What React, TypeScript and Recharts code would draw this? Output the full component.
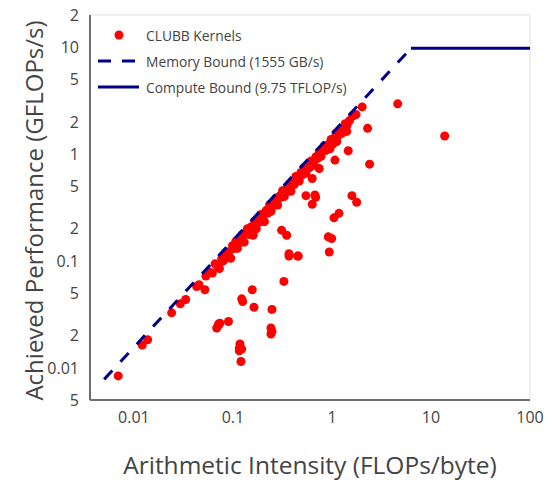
import React from "react";
import {
  ScatterChart,
  Scatter,
  XAxis,
  YAxis,
  CartesianGrid,
  Legend,
  Label,
} from "recharts";

// CLUBB kernel measurements: arithmetic intensity (FLOPs/byte) and achieved performance
const kernelAI: number[] = [
  0.00694, 0.01213, 0.01375, 0.02404, 0.0294, 0.0333, 0.043, 0.0454, 0.0521, 0.0533,
  0.0685, 0.0717, 0.0739, 0.0901, 0.0711,
  0.1225, 0.1253, 0.1567, 0.163, 0.1177, 0.1159, 0.1225, 0.1159, 0.1205,
  0.327, 0.2477, 0.242, 0.2477, 0.242,
  0.31, 0.349, 0.368, 0.368, 0.457, 0.918, 0.993, 0.939,
  4.61, 13.75, 2.29, 1.46, 2.4, 1.072, 0.744, 0.632, 0.546, 0.673, 0.684, 0.632,
  1.59, 1.776, 1.048, 1.177, 0.45, 0.16,
  0.058, 0.062, 0.066, 0.07, 0.073, 0.077, 0.08, 0.084, 0.088, 0.091,
  0.095, 0.099, 0.103, 0.107, 0.111, 0.115, 0.12, 0.125, 0.13, 0.135,
  0.14, 0.146, 0.152, 0.158, 0.165, 0.172, 0.178, 0.185, 0.192, 0.2,
  0.208, 0.216, 0.225, 0.234, 0.243, 0.252, 0.262, 0.272, 0.283, 0.294,
  0.305, 0.317, 0.33, 0.343, 0.356, 0.37, 0.385, 0.4, 0.416, 0.432,
  0.45, 0.468, 0.486, 0.505, 0.525, 0.546, 0.568, 0.59, 0.614, 0.638,
  0.663, 0.69, 0.717, 0.745, 0.775, 0.805, 0.837, 0.87, 0.905, 0.94,
  0.98, 1.02, 1.06, 1.1, 1.15, 1.2, 1.25, 1.3, 1.36, 1.42,
  1.5, 1.62, 1.75, 2.02, 0.955, 0.787, 1.41, 1.12,
];
const kernelPerf: number[] = [
  0.0084, 0.01633, 0.01832, 0.0327, 0.0397, 0.0436, 0.0577, 0.0599, 0.0537, 0.0722,
  0.0236, 0.0257, 0.0261, 0.0271, 0.0248,
  0.0442, 0.0417, 0.0537, 0.0369, 0.0167, 0.0153, 0.015, 0.01445, 0.01145,
  0.0643, 0.0351, 0.0236, 0.0219, 0.0207,
  0.194, 0.174, 0.117, 0.111, 0.111, 0.168, 0.162, 0.1213,
  2.95, 1.477, 1.74, 1.074, 0.805, 0.878, 0.732, 0.59, 0.408, 0.414, 0.394, 0.339,
  0.408, 0.354, 0.253, 0.279, 0.111, 0.174,
  0.079, 0.077, 0.094, 0.09, 0.085, 0.105, 0.1, 0.12, 0.107, 0.122,
  0.106, 0.139, 0.131, 0.153, 0.131, 0.154, 0.149, 0.177, 0.15, 0.178,
  0.2, 0.177, 0.208, 0.202, 0.236, 0.2, 0.238, 0.23, 0.272, 0.261,
  0.233, 0.296, 0.28, 0.335, 0.291, 0.337, 0.334, 0.385, 0.334, 0.402,
  0.393, 0.454, 0.4, 0.464, 0.449, 0.523, 0.449, 0.535, 0.518, 0.618,
  0.581, 0.56, 0.673, 0.644, 0.751, 0.662, 0.76, 0.743, 0.859, 0.833,
  0.784, 0.944, 0.914, 1.054, 0.952, 1.077, 1.198, 1.082, 1.224, 1.199,
  1.372, 1.237, 1.417, 1.574, 1.484, 1.661, 1.555, 1.76, 1.92, 1.86,
  2.05, 2.27, 2.34, 2.76, 1.12, 1.057, 1.63, 1.31,
];

// Roofline bounds
const memoryAI: number[] = [0.005, 6.27];
const memoryPerf: number[] = [0.0078, 9.75];
const computeAI: number[] = [6.27, 100];
const computePerf: number[] = [9.75, 9.75];

const xTicks: number[] = [0.01, 0.1, 1, 10, 100];
const xTickLabels: string[] = ["0.01", "0.1", "1", "10", "100"];
const yTicks: number[] = [0.005, 0.01, 0.02, 0.05, 0.1, 0.2, 0.5, 1, 2, 5, 10, 20];
const yTickLabels: string[] = ["5", "0.01", "2", "5", "0.1", "2", "5", "1", "2", "5", "10", "2"];

const legendLabels: string[] = [
  "CLUBB Kernels",
  "Memory Bound (1555 GB/s)",
  "Compute Bound (9.75 TFLOP/s)",
];

const xDomain: [number, number] = [0.0036, 100];
const yDomain: [number, number] = [0.005, 20];

const kernels = kernelAI.map((x, i) => ({ x, y: kernelPerf[i] }));
const memory = memoryAI.map((x, i) => ({ x, y: memoryPerf[i] }));
const compute = computeAI.map((x, i) => ({ x, y: computePerf[i] }));

const FONT = '"Open Sans", verdana, arial, sans-serif';
const TEXT = "#444";
const NAVY = "#00008B";
const RED = "#FF0000";
const FRAME = "#6e6e6e";

const Dot = (props: any) => {
  const { cx, cy } = props;
  if (cx == null || cy == null) return <g />;
  return <circle cx={cx} cy={cy} r={4.5} fill={RED} />;
};

const NoShape = () => <g />;

const LegendContent = () => (
  <div
    style={{
      background: "#fff",
      width: 262,
      height: 92,
      fontFamily: FONT,
      fontSize: 13.8,
      color: TEXT,
      boxSizing: "border-box",
      paddingTop: 6,
    }}
  >
    {legendLabels.map((label, i) => (
      <div
        key={label}
        style={{ display: "flex", alignItems: "center", height: 26 }}
      >
        <svg width={55} height={26} style={{ display: "block" }}>
          {i === 0 && <circle cx={28} cy={13} r={4.5} fill={RED} />}
          {i === 1 && (
            <line
              x1={7}
              y1={13}
              x2={47}
              y2={13}
              stroke={NAVY}
              strokeWidth={3}
              strokeDasharray="13 11"
            />
          )}
          {i === 2 && (
            <line x1={7} y1={13} x2={48} y2={13} stroke={NAVY} strokeWidth={3} />
          )}
        </svg>
        <span style={{ whiteSpace: "nowrap" }}>{label}</span>
      </div>
    ))}
  </div>
);

export default function App() {
  return (
    <div style={{ position: "absolute", left: 0, top: 0, background: "#fff" }}>
      <ScatterChart
        width={554}
        height={480}
        margin={{ top: 15, right: 24, bottom: 0, left: 0 }}
        style={{ fontFamily: FONT }}
      >
        <CartesianGrid stroke="#ebebeb" strokeWidth={1.5} />
        <XAxis
          xAxisId="main"
          dataKey="x"
          type="number"
          scale="log"
          domain={xDomain}
          allowDataOverflow
          ticks={xTicks}
          tickFormatter={(v: number) => xTickLabels[xTicks.indexOf(v)] ?? String(v)}
          height={80}
          axisLine={{ stroke: FRAME, strokeWidth: 2 }}
          tickLine={false}
          tick={{ fill: TEXT, fontSize: 16, fontFamily: FONT }}
          tickMargin={6}
        >
          <Label
            content={(p: any) => {
              const vb = p.viewBox || {};
              return (
                <text
                  x={vb.x + vb.width / 2}
                  y={vb.y + vb.height - 6}
                  textAnchor="middle"
                  fill={TEXT}
                  fontSize={24.5}
                  fontFamily={FONT}
                >
                  Arithmetic Intensity (FLOPs/byte)
                </text>
              );
            }}
          />
        </XAxis>
        <XAxis
          xAxisId="top"
          orientation="top"
          dataKey="x"
          type="number"
          scale="log"
          domain={xDomain}
          allowDataOverflow
          ticks={xTicks}
          height={0}
          tick={false}
          tickLine={false}
          axisLine={{ stroke: FRAME, strokeWidth: 2 }}
        />
        <YAxis
          yAxisId="main"
          dataKey="y"
          type="number"
          scale="log"
          domain={yDomain}
          allowDataOverflow
          ticks={yTicks}
          tickFormatter={(v: number) => yTickLabels[yTicks.indexOf(v)] ?? String(v)}
          width={90}
          axisLine={{ stroke: FRAME, strokeWidth: 2 }}
          tickLine={false}
          tick={{ fill: TEXT, fontSize: 16, fontFamily: FONT }}
          tickMargin={5}
        >
          <Label
            content={(p: any) => {
              const vb = p.viewBox || {};
              const cx = 33;
              const cy = vb.y + vb.height / 2 + 3;
              return (
                <text
                  x={cx}
                  y={cy}
                  transform={`rotate(-90, ${cx}, ${cy})`}
                  textAnchor="middle"
                  dominantBaseline="central"
                  fill={TEXT}
                  fontSize={24}
                  fontFamily={FONT}
                >
                  Achieved Performance (GFLOPs/s)
                </text>
              );
            }}
          />
        </YAxis>
        <YAxis
          yAxisId="right"
          orientation="right"
          dataKey="y"
          type="number"
          scale="log"
          domain={yDomain}
          allowDataOverflow
          ticks={yTicks}
          width={0}
          tick={false}
          tickLine={false}
          axisLine={{ stroke: FRAME, strokeWidth: 2 }}
        />
        <Legend
          layout="horizontal"
          verticalAlign="middle"
          align="center"
          wrapperStyle={{ left: 91, top: 16, width: 262, height: 92 }}
          content={LegendContent}
        />
        <Scatter
          name={legendLabels[0]}
          data={kernels}
          xAxisId="main"
          yAxisId="main"
          fill={RED}
          shape={Dot}
          isAnimationActive={false}
        />
        <Scatter
          name={legendLabels[1]}
          data={memory}
          xAxisId="main"
          yAxisId="main"
          fill={NAVY}
          shape={NoShape}
          line={{ stroke: NAVY, strokeWidth: 3, strokeDasharray: "12 12" }}
          isAnimationActive={false}
        />
        <Scatter
          name={legendLabels[2]}
          data={compute}
          xAxisId="main"
          yAxisId="main"
          fill={NAVY}
          shape={NoShape}
          line={{ stroke: NAVY, strokeWidth: 3 }}
          isAnimationActive={false}
        />
      </ScatterChart>
    </div>
  );
}
